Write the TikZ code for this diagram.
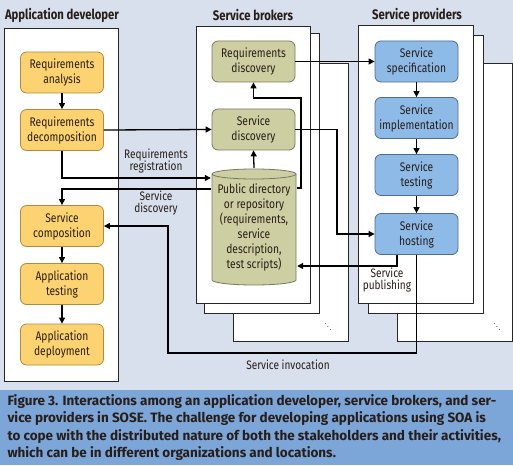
\documentclass[tikz,border=0pt]{standalone}
\usepackage{fontspec}
\setmainfont{Fira Sans}
\newfontfamily\narrowfont[FakeStretch=0.82]{Fira Sans}
\usetikzlibrary{arrows.meta}
\definecolor{bgtop}{RGB}{215,224,236}
\definecolor{bgcap}{RGB}{124,166,216}
\definecolor{ink}{RGB}{40,30,25}
\definecolor{yfill}{RGB}{252,211,112}
\definecolor{yline}{RGB}{176,138,62}
\definecolor{gfill}{RGB}{205,207,162}
\definecolor{gline}{RGB}{118,122,98}
\definecolor{bfill}{RGB}{142,186,231}
\definecolor{bline}{RGB}{78,108,148}

\begin{document}
\begin{tikzpicture}[x=1pt,y=-1pt,
    box/.style={rounded corners=6pt, minimum width=83pt, minimum height=41pt, inner sep=0pt,
      align=center, line width=0.8pt, text=ink, font=\narrowfont\fontsize{12.5}{15}\selectfont},
    devbox/.style={box, fill=yfill, draw=yline},
    brkbox/.style={box, fill=gfill, draw=gline},
    prvbox/.style={box, fill=bfill, draw=bline},
    panel/.style={fill=white, draw=black!85, line width=0.8pt},
    flow/.style={draw=black, line width=1.3pt, -{Triangle[length=6pt,width=6pt]}},
    head/.style={text=ink, font=\narrowfont\bfseries\fontsize{13.8}{15}\selectfont},
    lbl/.style={align=center, text=ink, font=\narrowfont\fontsize{12.3}{12.5}\selectfont},
    repo/.style={minimum width=86pt, minimum height=118pt, inner sep=0pt, align=center,
      fill=white, text=ink, font=\narrowfont\fontsize{12.5}{15}\selectfont,
      path picture={
        \path[fill=gfill, draw=gline, line width=0.8pt]
          ([shift={(1pt,-6pt)}]path picture bounding box.north west)
          -- ([shift={(1pt,6pt)}]path picture bounding box.south west)
          arc[start angle=180, end angle=360, x radius=42pt, y radius=5pt]
          -- ([shift={(-1pt,-6pt)}]path picture bounding box.north east)
          arc[start angle=0, end angle=180, x radius=42pt, y radius=5pt] -- cycle;
        \draw[gline, line width=0.8pt]
          ([shift={(1pt,-6pt)}]path picture bounding box.north west)
          arc[start angle=180, end angle=360, x radius=42pt, y radius=5pt];
      }}]
  \fill[bgtop] (0,0) rectangle (513,390);
  \fill[bgcap] (0,390) rectangle (513,465);
  \useasboundingbox (0,0) rectangle (513,465);

  \draw[panel] (4,28) rectangle (118,381);
  \draw[panel] (233,63) rectangle (348,341);
  \draw[panel] (204,33) rectangle (319,313);
  \draw[panel] (196,26) rectangle (310,303);
  \draw[panel] (397,63) rectangle (512,341);
  \draw[panel] (368,35) rectangle (483,313);
  \draw[panel] (358,25) rectangle (473,303);
  \node[text=ink] (dots1) at (328,324) {\scriptsize$\ddots$};
  \node[text=ink] (dots2) at (497,324) {\scriptsize$\ddots$};

  \node[head] (hdev) at (62,15) {Application developer};
  \node[head] (hbrk) at (253,15) {Service brokers};
  \node[head] (hprv) at (417,15) {Service providers};

  \node[devbox] (ra) at (62,72.5) {Requirements\\analysis};
  \node[devbox] (rd) at (62,130) {Requirements\\decomposition};
  \node[devbox] (sc) at (62,226) {Service\\composition};
  \node[devbox] (at) at (62,284) {Application\\testing};
  \node[devbox] (ad) at (62,344.5) {Application\\deployment};

  \node[brkbox] (rq) at (253.5,61.5) {Requirements\\discovery};
  \node[brkbox] (sd) at (253.5,129.5) {Service\\discovery};
  \node[repo] (pd) at (254,227) {Public directory\\or repository\\(requirements,\\service\\description,\\test scripts)};

  \node[prvbox] (ss) at (416.5,61.5) {Service\\specification};
  \node[prvbox] (si) at (416.5,118) {Service\\implementation};
  \node[prvbox] (st) at (416.5,175) {Service\\testing};
  \node[prvbox] (sh) at (416.5,234) {Service\\hosting};

  \coordinate (up) at (301,98);
  \coordinate (dn) at (337,233);
  \coordinate (inv) at (168,353);

  \draw[flow] (ra) -- (rd);
  \draw[flow] (sc) -- (at);
  \draw[flow] (at) -- (ad);
  \draw[flow] (ss) -- (si);
  \draw[flow] (si) -- (st);
  \draw[flow] (st) -- (sh);
  \draw[flow] (rd.east) -- (sd.west);
  \draw[flow] (rd.south) |- ([yshift=49pt]pd.west);
  \draw[flow] ([yshift=38pt]pd.west) -| (sc.north);
  \draw[flow] (pd.north) -- (sd.south);
  \draw[flow] ([yshift=39pt]pd.east) -| (up) -| (rq.south);
  \draw[flow] (rq.east) -- (ss.west);
  \draw[flow] (sd.east) -| (dn) |- (sh.west);
  \draw[flow] ([xshift=-19.5pt]sh.south) |- ([yshift=-39pt]pd.east);
  \draw[flow] (sh.south) |- (inv) |- (sc.east);

  \node[lbl] (lreg) at (156,161) {Requirements\\registration};
  \node[lbl] (ldis) at (156,203) {Service\\discovery};
  \node[lbl] (lpub) at (387,280) {Service\\publishing};
  \node[lbl] (linv) at (288,365) {Service invocation};

  \node[anchor=north west, align=left, text=ink, font=\bfseries\fontsize{13.5}{17.4}\selectfont] (cap) at (4,391)
    {Figure 3. Interactions among an application developer, service brokers, and ser-\\
     vice providers in SOSE. The challenge for developing applications using SOA is\\
     to cope with the distributed nature of both the stakeholders and their activities,\\
     which can be in different organizations and locations.};
\end{tikzpicture}
\end{document}
